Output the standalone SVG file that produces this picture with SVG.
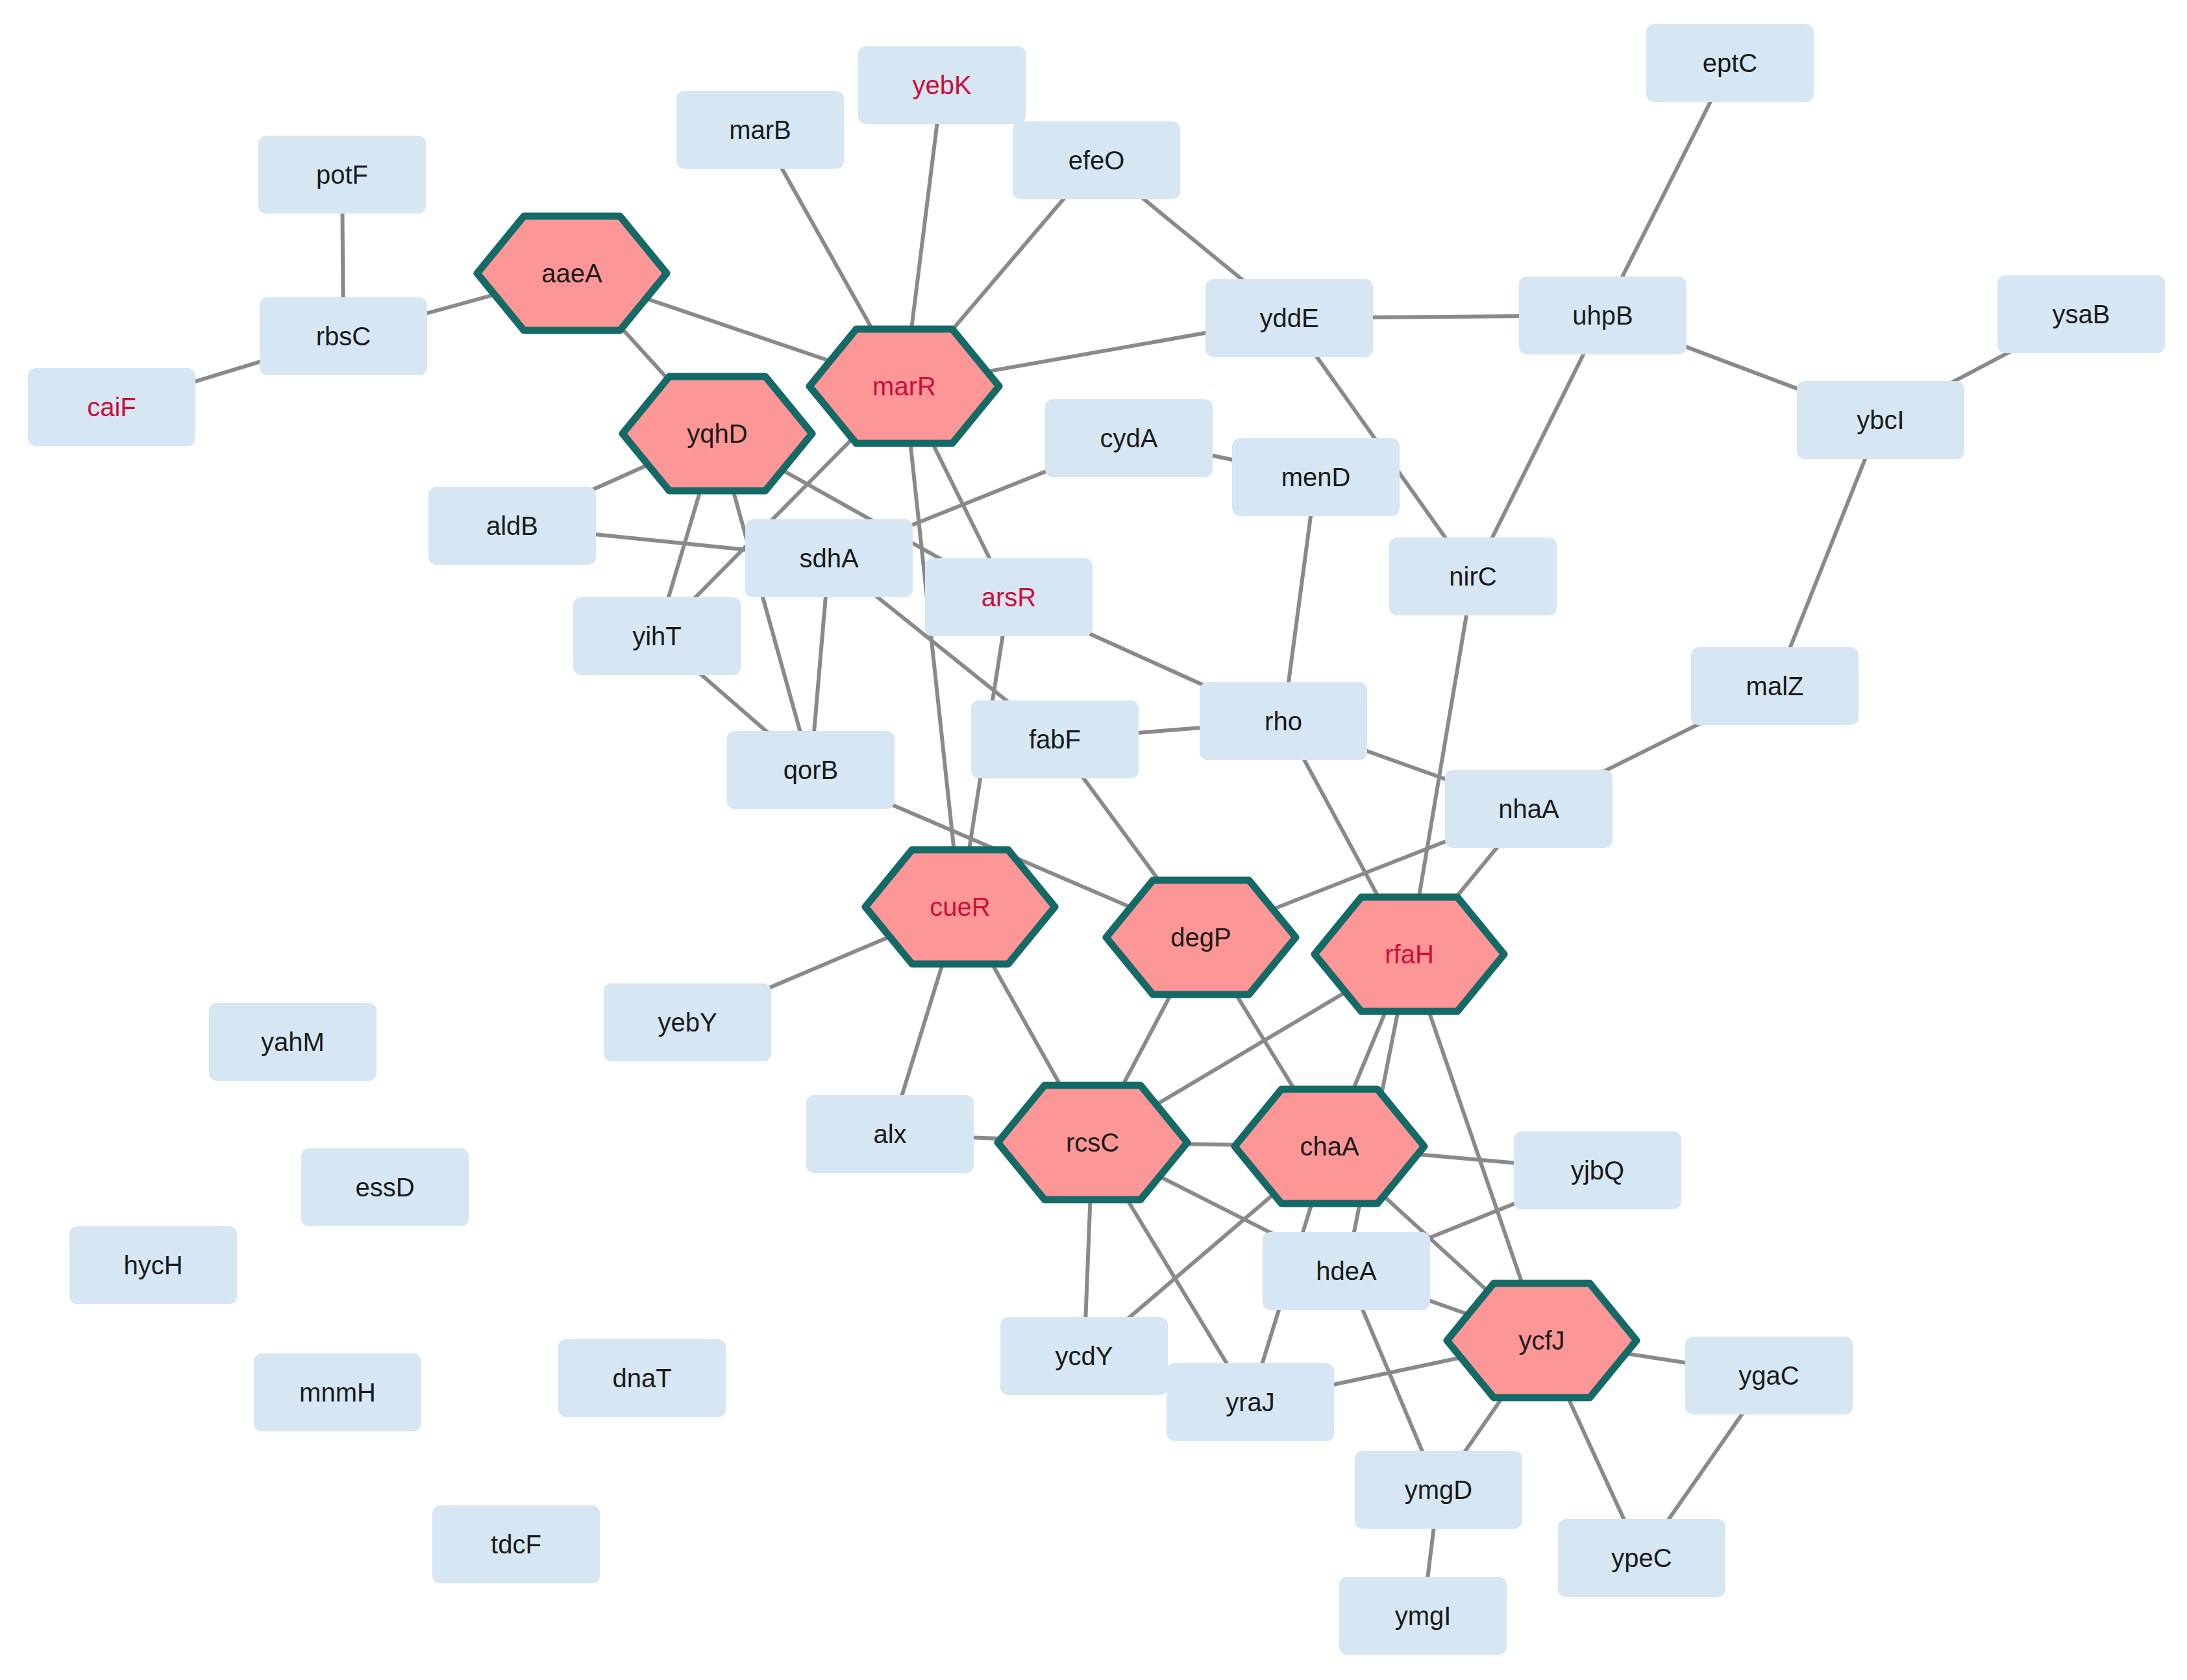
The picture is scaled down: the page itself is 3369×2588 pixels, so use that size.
<svg xmlns="http://www.w3.org/2000/svg" width="3369" height="2588" viewBox="0 0 3369 2588">
<style>
.e line{stroke:#8a8a8a;stroke-width:6}
text{font-family:"Liberation Sans",Arial,sans-serif;font-size:40px;fill:#1a1a1a;text-anchor:middle;dominant-baseline:central}
.r{fill:#cc0f3a}
</style>
<defs>
<rect id="bx" x="-129" y="-60" width="258" height="120" rx="12" fill="#d6e6f2"/>
<polygon id="hx" points="-146,0 -74,-88 74,-88 146,0 74,88 -74,88" fill="#fd9696" stroke="#146a66" stroke-width="11" stroke-linejoin="round"/>
</defs>
<g class="e">
<line x1="527" y1="269" x2="529" y2="518"/>
<line x1="529" y1="518" x2="172" y2="627"/>
<line x1="529" y1="518" x2="881" y2="421"/>
<line x1="881" y1="421" x2="1393" y2="595"/>
<line x1="881" y1="421" x2="1105" y2="668"/>
<line x1="1171" y1="200" x2="1393" y2="595"/>
<line x1="1451" y1="131" x2="1393" y2="595"/>
<line x1="1689" y1="247" x2="1393" y2="595"/>
<line x1="1689" y1="247" x2="1986" y2="490"/>
<line x1="1393" y1="595" x2="1986" y2="490"/>
<line x1="1986" y1="490" x2="2469" y2="486"/>
<line x1="1986" y1="490" x2="2269" y2="888"/>
<line x1="2469" y1="486" x2="2665" y2="97"/>
<line x1="2469" y1="486" x2="2269" y2="888"/>
<line x1="2469" y1="486" x2="2897" y2="647"/>
<line x1="2897" y1="647" x2="3206" y2="484"/>
<line x1="2897" y1="647" x2="2734" y2="1057"/>
<line x1="2734" y1="1057" x2="2355" y2="1246"/>
<line x1="1393" y1="595" x2="1554" y2="920"/>
<line x1="1393" y1="595" x2="1479" y2="1397"/>
<line x1="1393" y1="595" x2="1012" y2="980"/>
<line x1="1105" y1="668" x2="789" y2="810"/>
<line x1="1105" y1="668" x2="1012" y2="980"/>
<line x1="1105" y1="668" x2="1249" y2="1186"/>
<line x1="1105" y1="668" x2="1554" y2="920"/>
<line x1="789" y1="810" x2="1277" y2="860"/>
<line x1="1739" y1="675" x2="1277" y2="860"/>
<line x1="1739" y1="675" x2="2027" y2="735"/>
<line x1="2027" y1="735" x2="1977" y2="1111"/>
<line x1="1277" y1="860" x2="1249" y2="1186"/>
<line x1="1277" y1="860" x2="1625" y2="1139"/>
<line x1="1012" y1="980" x2="1249" y2="1186"/>
<line x1="1554" y1="920" x2="1977" y2="1111"/>
<line x1="1554" y1="920" x2="1479" y2="1397"/>
<line x1="1625" y1="1139" x2="1977" y2="1111"/>
<line x1="1625" y1="1139" x2="1850" y2="1444"/>
<line x1="1977" y1="1111" x2="2355" y2="1246"/>
<line x1="1977" y1="1111" x2="2171" y2="1470"/>
<line x1="2269" y1="888" x2="2171" y2="1470"/>
<line x1="2355" y1="1246" x2="1850" y2="1444"/>
<line x1="2355" y1="1246" x2="2171" y2="1470"/>
<line x1="1249" y1="1186" x2="1850" y2="1444"/>
<line x1="1479" y1="1397" x2="1059" y2="1575"/>
<line x1="1479" y1="1397" x2="1371" y2="1747"/>
<line x1="1479" y1="1397" x2="1683" y2="1760"/>
<line x1="1850" y1="1444" x2="1683" y2="1760"/>
<line x1="1850" y1="1444" x2="2048" y2="1766"/>
<line x1="2171" y1="1470" x2="1683" y2="1760"/>
<line x1="2171" y1="1470" x2="2048" y2="1766"/>
<line x1="2171" y1="1470" x2="2074" y2="1958"/>
<line x1="2171" y1="1470" x2="2375" y2="2065"/>
<line x1="1371" y1="1747" x2="1683" y2="1760"/>
<line x1="1683" y1="1760" x2="2048" y2="1766"/>
<line x1="1683" y1="1760" x2="2074" y2="1958"/>
<line x1="1683" y1="1760" x2="1670" y2="2089"/>
<line x1="1683" y1="1760" x2="1926" y2="2160"/>
<line x1="2048" y1="1766" x2="2461" y2="1803"/>
<line x1="2048" y1="1766" x2="1670" y2="2089"/>
<line x1="2048" y1="1766" x2="1926" y2="2160"/>
<line x1="2048" y1="1766" x2="2375" y2="2065"/>
<line x1="2461" y1="1803" x2="2074" y2="1958"/>
<line x1="2074" y1="1958" x2="2375" y2="2065"/>
<line x1="2074" y1="1958" x2="2216" y2="2295"/>
<line x1="2375" y1="2065" x2="1926" y2="2160"/>
<line x1="2375" y1="2065" x2="2216" y2="2295"/>
<line x1="2375" y1="2065" x2="2725" y2="2119"/>
<line x1="2375" y1="2065" x2="2529" y2="2400"/>
<line x1="2725" y1="2119" x2="2529" y2="2400"/>
<line x1="2216" y1="2295" x2="2192" y2="2489"/>
</g>
<g class="b">
<g id="eptC" transform="translate(2665,97)"><use href="#bx"/><text>eptC</text></g>
<g id="yebK" transform="translate(1451,131)"><use href="#bx"/><text class="r">yebK</text></g>
<g id="marB" transform="translate(1171,200)"><use href="#bx"/><text>marB</text></g>
<g id="efeO" transform="translate(1689,247)"><use href="#bx"/><text>efeO</text></g>
<g id="potF" transform="translate(527,269)"><use href="#bx"/><text>potF</text></g>
<g id="rbsC" transform="translate(529,518)"><use href="#bx"/><text>rbsC</text></g>
<g id="caiF" transform="translate(172,627)"><use href="#bx"/><text class="r">caiF</text></g>
<g id="yddE" transform="translate(1986,490)"><use href="#bx"/><text>yddE</text></g>
<g id="uhpB" transform="translate(2469,486)"><use href="#bx"/><text>uhpB</text></g>
<g id="ysaB" transform="translate(3206,484)"><use href="#bx"/><text>ysaB</text></g>
<g id="ybcI" transform="translate(2897,647)"><use href="#bx"/><text>ybcI</text></g>
<g id="cydA" transform="translate(1739,675)"><use href="#bx"/><text>cydA</text></g>
<g id="menD" transform="translate(2027,735)"><use href="#bx"/><text>menD</text></g>
<g id="aldB" transform="translate(789,810)"><use href="#bx"/><text>aldB</text></g>
<g id="sdhA" transform="translate(1277,860)"><use href="#bx"/><text>sdhA</text></g>
<g id="arsR" transform="translate(1554,920)"><use href="#bx"/><text class="r">arsR</text></g>
<g id="nirC" transform="translate(2269,888)"><use href="#bx"/><text>nirC</text></g>
<g id="yihT" transform="translate(1012,980)"><use href="#bx"/><text>yihT</text></g>
<g id="malZ" transform="translate(2734,1057)"><use href="#bx"/><text>malZ</text></g>
<g id="rho" transform="translate(1977,1111)"><use href="#bx"/><text>rho</text></g>
<g id="fabF" transform="translate(1625,1139)"><use href="#bx"/><text>fabF</text></g>
<g id="qorB" transform="translate(1249,1186)"><use href="#bx"/><text>qorB</text></g>
<g id="nhaA" transform="translate(2355,1246)"><use href="#bx"/><text>nhaA</text></g>
<g id="yahM" transform="translate(451,1605)"><use href="#bx"/><text>yahM</text></g>
<g id="yebY" transform="translate(1059,1575)"><use href="#bx"/><text>yebY</text></g>
<g id="alx" transform="translate(1371,1747)"><use href="#bx"/><text>alx</text></g>
<g id="yjbQ" transform="translate(2461,1803)"><use href="#bx"/><text>yjbQ</text></g>
<g id="essD" transform="translate(593,1829)"><use href="#bx"/><text>essD</text></g>
<g id="hdeA" transform="translate(2074,1958)"><use href="#bx"/><text>hdeA</text></g>
<g id="hycH" transform="translate(236,1949)"><use href="#bx"/><text>hycH</text></g>
<g id="ycdY" transform="translate(1670,2089)"><use href="#bx"/><text>ycdY</text></g>
<g id="yraJ" transform="translate(1926,2160)"><use href="#bx"/><text>yraJ</text></g>
<g id="ygaC" transform="translate(2725,2119)"><use href="#bx"/><text>ygaC</text></g>
<g id="mnmH" transform="translate(520,2145)"><use href="#bx"/><text>mnmH</text></g>
<g id="dnaT" transform="translate(989,2123)"><use href="#bx"/><text>dnaT</text></g>
<g id="ymgD" transform="translate(2216,2295)"><use href="#bx"/><text>ymgD</text></g>
<g id="ypeC" transform="translate(2529,2400)"><use href="#bx"/><text>ypeC</text></g>
<g id="tdcF" transform="translate(795,2379)"><use href="#bx"/><text>tdcF</text></g>
<g id="ymgI" transform="translate(2192,2489)"><use href="#bx"/><text>ymgI</text></g>
</g>
<g class="h">
<g id="aaeA" transform="translate(881,421)"><use href="#hx"/><text>aaeA</text></g>
<g id="marR" transform="translate(1393,595)"><use href="#hx"/><text class="r">marR</text></g>
<g id="yqhD" transform="translate(1105,668)"><use href="#hx"/><text>yqhD</text></g>
<g id="cueR" transform="translate(1479,1397)"><use href="#hx"/><text class="r">cueR</text></g>
<g id="degP" transform="translate(1850,1444)"><use href="#hx"/><text>degP</text></g>
<g id="rfaH" transform="translate(2171,1470)"><use href="#hx"/><text class="r">rfaH</text></g>
<g id="rcsC" transform="translate(1683,1760)"><use href="#hx"/><text>rcsC</text></g>
<g id="chaA" transform="translate(2048,1766)"><use href="#hx"/><text>chaA</text></g>
<g id="ycfJ" transform="translate(2375,2065)"><use href="#hx"/><text>ycfJ</text></g>
</g>
</svg>
